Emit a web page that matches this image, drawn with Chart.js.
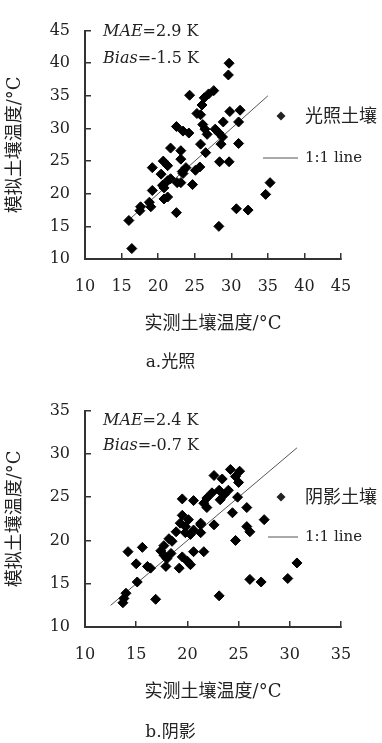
<!DOCTYPE html>
<html>
<head>
<meta charset="utf-8">
<script src="https://cdn.jsdelivr.net/npm/chart.js"></script>
<style>
  body { margin: 0; background: #fff; }
  canvas { position: absolute; left: 0; }
</style>
</head>
<body>
<canvas id="chartA" style="top:0" width="382" height="380"></canvas>
<canvas id="chartB" style="top:380px" width="382" height="363"></canvas>
<script>
'use strict';

// a. 光照 : 实测 (x) / 模拟 (y)
var sunObs = [29.7, 29.6, 27.6, 26.9, 26.3, 24.3, 26.0, 25.3, 25.8, 29.8, 31.2, 22.5, 23.4, 24.2,
  26.1, 26.4, 26.7, 28.9, 31.0, 27.8, 28.3, 28.8, 28.6, 25.8, 31.0, 26.5, 28.4, 29.7, 21.7, 23.1,
  23.1, 19.2, 20.7, 21.3, 20.4, 19.2, 20.6, 21.3, 21.7, 23.1, 23.4, 23.8, 24.7, 25.1, 25.7, 35.3,
  34.7, 20.8, 21.3, 17.6, 17.5, 18.8, 19.0, 16.0, 16.4, 22.5, 28.3, 30.7, 32.3, 22.6, 20.8, 23.3];
var sunSim = [40.0, 38.2, 35.8, 35.3, 34.7, 35.1, 33.6, 32.3, 32.1, 32.6, 32.8, 30.3, 29.6, 29.3,
  30.6, 29.9, 29.1, 31.0, 31.0, 29.9, 29.3, 28.7, 27.6, 27.6, 27.7, 26.3, 24.9, 24.9, 27.0, 26.6,
  25.3, 24.0, 25.0, 24.3, 23.0, 20.5, 21.3, 22.0, 22.3, 21.7, 23.1, 24.0, 21.4, 23.6, 24.1, 21.7,
  19.9, 19.2, 19.5, 18.0, 17.4, 18.7, 18.0, 15.9, 11.6, 17.1, 15.0, 17.7, 17.5, 21.7, 20.9, 23.4];
var sunLine = [15.8, 35.0];
var sunTicks = [10, 15, 20, 25, 30, 35, 40, 45];

// b. 阴影
var shadeObs = [24.2, 25.1, 24.7, 25.0, 22.6, 23.4, 24.0, 23.1, 23.6, 22.4, 23.2, 21.9, 24.9, 21.6,
  21.9, 24.4, 25.8, 22.6, 25.8, 26.1, 27.5, 21.3, 24.7, 21.6, 30.7, 26.1, 27.2, 29.8, 23.1, 19.5,
  20.6, 19.5, 19.3, 19.8, 20.1, 21.3, 18.9, 19.8, 20.3, 21.3, 20.6, 18.2, 18.5, 17.7, 17.4, 17.7,
  18.0, 17.9, 18.4, 19.2, 19.5, 20.0, 20.3, 20.6, 14.2, 15.6, 15.0, 16.1, 16.4, 15.1, 14.0, 13.8,
  13.7, 16.9];
var shadeSim = [28.2, 28.0, 27.4, 26.7, 27.5, 27.1, 25.8, 25.8, 25.3, 25.5, 24.7, 24.9, 25.0, 24.3,
  23.8, 23.2, 23.8, 21.8, 21.6, 21.0, 22.4, 21.8, 20.0, 18.7, 17.4, 15.5, 15.2, 15.6, 13.6, 24.8,
  24.6, 22.9, 22.0, 21.6, 22.4, 22.0, 21.0, 20.9, 20.7, 20.9, 21.2, 20.2, 19.9, 19.4, 18.8, 18.3,
  17.9, 17.0, 18.5, 16.8, 18.1, 17.6, 17.2, 18.7, 18.7, 19.2, 17.3, 17.0, 16.8, 15.2, 13.9, 13.3,
  12.8, 13.2];
var shadeLine = [12.5, 30.7];
var shadeTicks = [10, 15, 20, 25, 30, 35];

var FONT = "'DejaVu Serif', 'Noto Sans CJK SC', serif";
var INK = '#222';

function pairs(xs, ys) {
  return xs.map(function (x, i) { return { x: x, y: ys[i] }; });
}

// 図中の文字（MAE, Bias, 凡例）
var notePlugin = {
  id: 'notes',
  afterDraw: function (chart) {
    var o = chart.options.plugins.notes;
    var ctx = chart.ctx;
    var left = chart.chartArea.left;
    ctx.save();
    ctx.fillStyle = INK;
    ctx.textBaseline = 'middle';
    ctx.textAlign = 'left';
    var stats = [['MAE', o.mae], ['Bias', o.bias]];
    stats.forEach(function (s, i) {
      var x = left + 18, y = o.statY[i];
      ctx.font = 'italic 16px ' + FONT;
      ctx.fillText(s[0], x, y);
      x += ctx.measureText(s[0]).width;
      ctx.font = '16px ' + FONT;
      ctx.fillText('=' + s[1] + ' K', x, y);
    });
    // 凡例: 菱形
    var dx = 281, dy = o.legendY[0], r = 4.5;
    ctx.beginPath();
    ctx.moveTo(dx - r, dy); ctx.lineTo(dx, dy - r); ctx.lineTo(dx + r, dy); ctx.lineTo(dx, dy + r);
    ctx.closePath();
    ctx.fill();
    ctx.font = '18px ' + FONT;
    ctx.fillText(o.name, 305, dy + 1);
    // 凡例: 1:1 line
    ctx.strokeStyle = '#555';
    ctx.lineWidth = 1;
    ctx.beginPath();
    ctx.moveTo(o.lineX, o.legendY[1]);
    ctx.lineTo(298, o.legendY[1]);
    ctx.stroke();
    ctx.font = '15px ' + FONT;
    ctx.fillText('1:1 line', 305, o.legendY[1]);
    ctx.restore();
  }
};

function makeChart(id, obs, sim, line, ticks, opt) {
  return new Chart(document.getElementById(id), {
    type: 'scatter',
    data: {
      datasets: [{
        label: opt.name,
        data: pairs(obs, sim),
        pointStyle: 'rectRot',
        pointRadius: 5,
        backgroundColor: '#000',
        borderColor: '#000',
        borderWidth: 1,
        order: 1
      }, {
        label: '1:1 line',
        data: pairs(line, line),
        showLine: true,
        pointRadius: 0,
        borderColor: '#555',
        borderWidth: 1,
        order: 2
      }]
    },
    options: {
      responsive: false,
      animation: false,
      devicePixelRatio: 1,
      layout: { padding: { top: opt.top, right: 41, left: 0, bottom: 0 } },
      plugins: {
        legend: { display: false },
        tooltip: { enabled: false },
        title: {
          display: true,
          position: 'bottom',
          text: opt.caption,
          color: INK,
          font: { family: FONT, size: 17, weight: 'normal' },
          padding: { top: 0, bottom: opt.captionPad }
        },
        notes: opt
      },
      scales: {
        x: {
          type: 'linear',
          min: ticks[0],
          max: ticks[ticks.length - 1],
          afterFit: function (s) { s.height = opt.xHeight; },
          ticks: { stepSize: 5, padding: 24, color: INK, font: { family: FONT, size: 16 } },
          grid: { drawOnChartArea: false, drawTicks: true, tickLength: -6, color: '#333', lineWidth: 1.5 },
          border: { display: true, color: '#333', width: 2 },
          title: {
            display: true, text: '实测土壤温度/°C', color: INK,
            font: { family: FONT, size: 18 },
            padding: { top: 0, bottom: opt.xTitlePad }
          }
        },
        y: {
          type: 'linear',
          min: ticks[0],
          max: ticks[ticks.length - 1],
          afterFit: function (s) { s.width = 85; },
          ticks: { stepSize: 5, padding: 21, color: INK, font: { family: FONT, size: 16 } },
          grid: { drawOnChartArea: false, drawTicks: true, tickLength: -6, color: '#333', lineWidth: 1.5 },
          border: { display: true, color: '#333', width: 2 },
          title: {
            display: true, text: '模拟土壤温度/°C', color: INK,
            font: { family: FONT, size: 18 },
            padding: { top: 5, bottom: 0 }
          }
        }
      }
    },
    plugins: [notePlugin]
  });
}

makeChart('chartA', sunObs, sunSim, sunLine, sunTicks, {
  name: '光照土壤', caption: 'a.光照', mae: '2.9', bias: '-1.5',
  top: 21, captionPad: 7, xHeight: 93.6, xTitlePad: 17.4,
  statY: [32, 59], legendY: [116, 158], lineX: 263
});

makeChart('chartB', shadeObs, shadeSim, shadeLine, shadeTicks, {
  name: '阴影土壤', caption: 'b.阴影', mae: '2.4', bias: '-0.7',
  top: 20, captionPad: 0, xHeight: 95.6, xTitlePad: 19.4,
  statY: [41, 66], legendY: [117, 157], lineX: 268
});
</script>
</body>
</html>
